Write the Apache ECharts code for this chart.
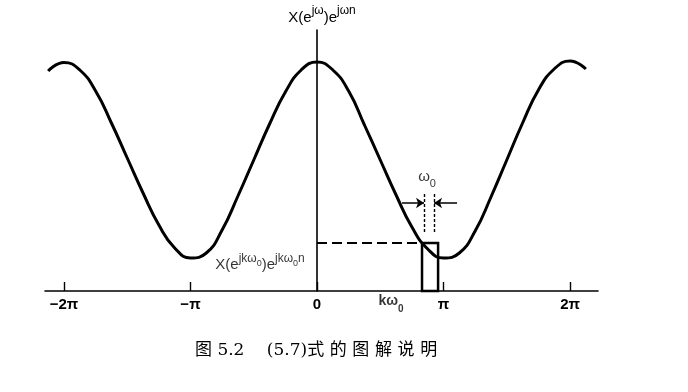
<!DOCTYPE html>
<html><head><meta charset="utf-8">
<script src="https://cdn.jsdelivr.net/npm/echarts@6/dist/echarts.min.js"></script>
<style>html,body{margin:0;padding:0;background:#fff}#c{width:688px;height:392px}</style>
</head><body><div id="c"></div>
<script>
// x in units of π (steps of π/8), y in amplitude units
const curveX = [-2.125,-2,-1.875,-1.75,-1.625,-1.5,-1.375,-1.25,-1.125,-1,-0.875,-0.75,-0.625,-0.5,-0.375,-0.25,-0.125,0,0.125,0.25,0.375,0.5,0.625,0.75,0.875,1,1.125,1.25,1.375,1.5,1.625,1.75,1.875,2,2.125];
const curveY = [2.20,2.285,2.21,2.00,1.68,1.33,0.98,0.66,0.43,0.33,0.38,0.61,0.95,1.31,1.67,1.99,2.21,2.29,2.21,2.00,1.66,1.31,0.96,0.64,0.42,0.33,0.38,0.60,0.94,1.31,1.68,2.01,2.22,2.30,2.22];
const tickValues = [-2,-1,0,1,2];
const tickLabels = ['−2π','−π','0','π','2π'];
const boxRange = [0.830, 0.957];   // kω0 .. (k+1)ω0
const boxHeight = 0.48;
const omegaMarks = [0.846, 0.925];
const omegaSpan = [0.59, 0.99];
const arrowLevel = 0.88;
const arrowStarts = [0.672, 1.107];
const kArrowFrom = [0.719, -0.17];
const kArrowTo = [0.822, -0.01];
const omegaLabelPos = [0.87, 1.12];
const kLabelPos = [0.585, -0.13];
const sampleLabelPos = [-0.45, 0.285];
const caption = '图 5.2\u3000 (5.7)式\u2004的\u2004图\u2004解\u2004说\u2004明';

const chart = echarts.init(document.getElementById('c'));
const black = '#000';
const sansFont = 'Liberation Sans, Arial, sans-serif';
const curveData = curveX.map((x, i) => [x, curveY[i]]);

const supRich = {
  m: {fontSize: 15, fontFamily: sansFont, color: black, lineHeight: 20, verticalAlign: 'bottom'},
  s: {fontSize: 12, fontFamily: sansFont, color: black, lineHeight: 20, verticalAlign: 'top'},
  ss: {fontSize: 9, fontFamily: sansFont, color: black, lineHeight: 16, verticalAlign: 'top', padding: [7, 0, 0, 0]},
  w: {fontSize: 15, fontFamily: sansFont, color: black, lineHeight: 20, verticalAlign: 'top'},
  ws: {fontSize: 11, fontFamily: sansFont, color: black, lineHeight: 20, verticalAlign: 'bottom'},
  k: {fontSize: 14, fontFamily: sansFont, color: black, fontWeight: 'bold', lineHeight: 20, verticalAlign: 'top'},
  ks: {fontSize: 10, fontFamily: sansFont, color: black, fontWeight: 'bold', lineHeight: 20, verticalAlign: 'bottom'}
};

chart.setOption({
  animation: false,
  grid: {left: 45, right: 90, top: 30, bottom: 101},
  xAxis: {
    type: 'value', min: -2.15, max: 2.221,
    axisLine: {lineStyle: {color: black, width: 1.6}},
    splitLine: {show: false},
    axisTick: {show: true, inside: true, length: 9, customValues: tickValues, lineStyle: {color: black, width: 1.4}},
    axisLabel: {customValues: tickValues, formatter: v => tickLabels[tickValues.indexOf(v)] || '', margin: 6,
      color: black, fontSize: 15, fontWeight: 'bold', fontFamily: sansFont}
  },
  yAxis: {
    type: 'value', min: 0, max: 2.61,
    axisLine: {show: true, onZero: true, lineStyle: {color: black, width: 1.6}},
    axisTick: {show: false}, axisLabel: {show: false}, splitLine: {show: false},
    name: '{m|X(e}{s|jω}{m|)e}{s|jωn}', nameLocation: 'end', nameGap: 5,
    nameTextStyle: {rich: supRich, padding: [0, 0, 0, 10]}
  },
  graphic: [{
    type: 'text', left: 195, top: 342,
    style: {text: caption, font: '17px "DejaVu Serif", "Noto Sans CJK SC", serif', fill: black}
  }],
  series: [
    {type: 'line', data: curveData, smooth: 0.5, showSymbol: false, lineStyle: {color: black, width: 3}, z: 3},
    {type: 'line', data: [[0, boxHeight], [boxRange[0], boxHeight]], showSymbol: false,
      lineStyle: {color: black, width: 1.8, type: [10, 5]}},
    {type: 'custom', data: [[boxRange[0], boxRange[1], boxHeight]], clip: false,
      renderItem: (params, api) => {
        const p0 = api.coord([api.value(0), api.value(2)]);
        const p1 = api.coord([api.value(1), 0]);
        return {type: 'rect', shape: {x: p0[0], y: p0[1], width: p1[0] - p0[0], height: p1[1] - p0[1]},
          style: {fill: 'none', stroke: black, lineWidth: 2.5}};
      }, z: 4},
    {type: 'line', data: [], clip: false,
      markLine: {silent: true, symbol: ['none', 'none'], label: {show: false},
        lineStyle: {color: black, width: 1.4, type: [3, 2]},
        data: omegaMarks.map(x => [{coord: [x, omegaSpan[0]]}, {coord: [x, omegaSpan[1]]}])}},
    {type: 'line', data: [], clip: false,
      markLine: {silent: true, symbol: ['none', 'arrow'], symbolSize: 8, label: {show: false},
        lineStyle: {color: black, width: 1.5, type: 'solid'},
        data: [
          [{coord: [arrowStarts[0], arrowLevel]}, {coord: [omegaMarks[0], arrowLevel]}],
          [{coord: [arrowStarts[1], arrowLevel]}, {coord: [omegaMarks[1], arrowLevel]}],
          [{coord: kArrowFrom}, {coord: kArrowTo}]
        ]}},
    {type: 'scatter', clip: false, symbolSize: 0, silent: true,
      data: [
        {value: omegaLabelPos, label: {formatter: '{w|ω}{ws|0}'}},
        {value: kLabelPos, label: {formatter: '{k|kω}{ks|0}'}},
        {value: sampleLabelPos, label: {formatter: '{m|X(e}{s|jkω}{ss|0}{m|)e}{s|jkω}{ss|0}{s|n}'}}
      ],
      label: {show: true, position: 'inside', rich: supRich}}
  ]
});
</script></body></html>
